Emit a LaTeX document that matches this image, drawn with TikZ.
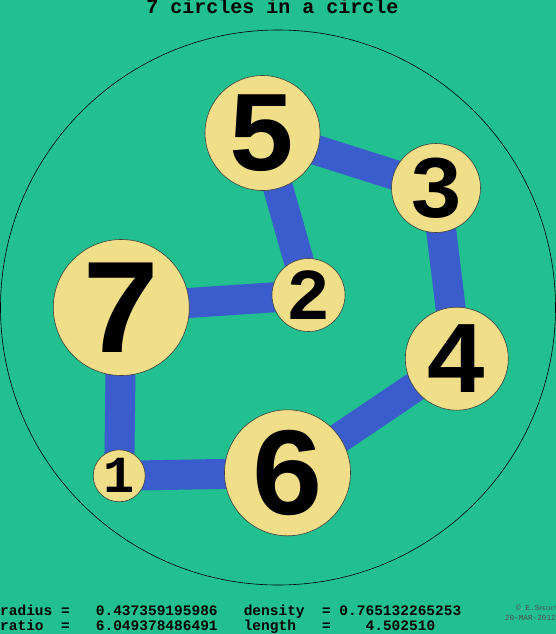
\documentclass[tikz,border=0pt]{standalone}
\usepackage{fontspec}
\usetikzlibrary{backgrounds}
\newfontfamily\monofont{Liberation Mono}
\definecolor{bggreen}{RGB}{34,192,144}
\definecolor{discfill}{RGB}{240,222,136}
\definecolor{linkblue}{RGB}{58,92,204}

\begin{document}
\begin{tikzpicture}[x=1pt,y=-1pt,
    disc/.style={circle,draw=black!75,fill=discfill,inner sep=0pt,line width=0.6pt,
      minimum size=#1pt,font=\monofont\bfseries\fontsize{#1}{#1}\selectfont},
    link/.style={linkblue,line width=30pt}]
  \useasboundingbox (0,0) rectangle (556,634);
  \node[circle,draw,inner sep=0pt,minimum size=555pt,line width=0.6pt] (rim) at (278,307.5) {};
  \node[disc=115] (n5) at (262.5,133) {5};
  \node[disc=89] (n3) at (436,188) {3};
  \node[disc=73] (n2) at (308.5,295) {2};
  \node[disc=136] (n7) at (121.3,307.5) {7};
  \node[disc=103] (n4) at (456.8,358.7) {4};
  \node[disc=126] (n6) at (287.5,472.8) {6};
  \node[disc=52] (n1) at (119.2,475.8) {1};
  \begin{scope}[on background layer]
    \fill[bggreen] (0,0) rectangle (556,634);
    \foreach \a/\b in {n5/n3,n5/n2,n2/n7,n7/n1,n1/n6,n6/n4,n4/n3}
      \draw[link] (\a.center) -- (\b.center);
  \end{scope}
  \node[anchor=base,inner sep=0pt,font=\monofont\bfseries\fontsize{20}{20}\selectfont] (title) at (272.5,13.5) {7 circles in a circle};
  \node[anchor=base west,inner sep=0pt,font=\monofont\bfseries\fontsize{14.5}{14.5}\selectfont] (stats1) at (0,615)
    {radius~=~~~0.437359195986~~~density~~=~0.765132265253};
  \node[anchor=base west,inner sep=0pt,font=\monofont\bfseries\fontsize{14.5}{14.5}\selectfont] (stats2) at (0,630)
    {ratio~~=~~~6.049378486491~~~length~~~=~~~~4.502510};
  \node[anchor=base east,inner sep=0pt,text=black!70,font=\monofont\fontsize{7.7}{7.7}\selectfont] (credit1) at (556,610)
    {© E.S{\fontsize{5.5}{5.5}\selectfont PECHT}};
  \node[anchor=base east,inner sep=0pt,text=black!70,font=\monofont\fontsize{7.7}{7.7}\selectfont] (credit2) at (556,620)
    {20-MAR-2012};
\end{tikzpicture}
\end{document}
